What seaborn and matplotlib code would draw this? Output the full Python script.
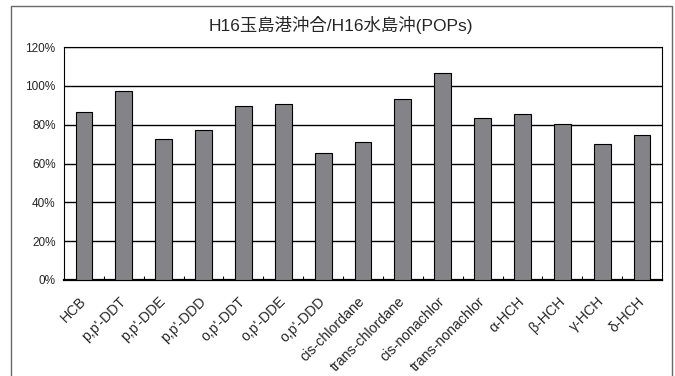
import matplotlib
matplotlib.use("Agg")
import matplotlib.pyplot as plt
from matplotlib.lines import Line2D
from matplotlib.ticker import FixedLocator, PercentFormatter
from matplotlib.transforms import ScaledTranslation
import seaborn as sns
import pandas as pd

compounds = ["HCB", "p,p'-DDT", "p,p'-DDE", "p,p'-DDD", "o,p'-DDT", "o,p'-DDE",
             "o,p'-DDD", "cis-chlordane", "trans-chlordane", "cis-nonachlor",
             "trans-nonachlor", "α-HCH", "β-HCH", "γ-HCH", "δ-HCH"]
ratio_pct = [86.5, 97.5, 72.8, 77.2, 89.4, 90.8, 65.2, 70.9, 93.4, 106.4,
             83.3, 85.6, 80.5, 69.9, 74.8]
y_ticks = [0, 20, 40, 60, 80, 100, 120]
title = "H16玉島港沖合/H16水島沖(POPs)"

sns.set_theme(style="white")
plt.rcParams["font.family"] = ["Liberation Sans", "Noto Sans CJK JP", "DejaVu Sans"]

df = pd.DataFrame({"compound": compounds, "ratio": ratio_pct})

fig = plt.figure(figsize=(6.75, 3.76), dpi=100)
ax = fig.add_axes([64 / 675, 1 - 280 / 376, (662 - 64) / 675, (280 - 47) / 376])

sns.barplot(data=df, x="compound", y="ratio", color="#848488", width=0.42,
            edgecolor="black", linewidth=0.8, saturation=1, ax=ax, zorder=3)

ax.set_ylim(0, 120)
ax.set_xlim(-0.5, len(compounds) - 0.5)
ax.yaxis.set_major_locator(FixedLocator(y_ticks))
ax.yaxis.set_major_formatter(PercentFormatter(decimals=0))
ax.grid(axis="y", color="black", linewidth=1.0, zorder=1)
ax.set_axisbelow(True)
ax.set_xlabel("")
ax.set_ylabel("")

# category boundary ticks pointing into the plot
ax.set_xticks(range(len(compounds)))
ax.set_xticklabels(compounds, rotation=45, ha="right", va="top",
                   rotation_mode="anchor", fontsize=10.2)
ax.tick_params(axis="x", length=0, pad=9)
shift = ScaledTranslation(-5 / 100, -2 / 100, fig.dpi_scale_trans)
for lbl in ax.get_xticklabels():
    lbl.set_transform(lbl.get_transform() + shift)
ax.set_xticks([i + 0.5 for i in range(len(compounds) - 1)], minor=True)
ax.tick_params(axis="x", which="minor", direction="in", length=3, width=0.8,
               color="black", bottom=True)
ax.tick_params(axis="y", length=0, pad=6, labelsize=8.5)

for side in ["left", "top", "right"]:
    ax.spines[side].set_color("black")
    ax.spines[side].set_linewidth(0.8)
ax.spines["bottom"].set_color("black")
ax.spines["bottom"].set_linewidth(1.6)

fig.text(341 / 675, 1 - 25 / 376, title, ha="center", va="center", fontsize=12.5)

# chart frame (open at the bottom)
W, H = 675, 376
frame = [(11, 376), (11, 6), (672, 6), (672, 376)]
xs = [p[0] / W for p in frame]
ys = [1 - p[1] / H for p in frame]
fig.add_artist(Line2D(xs, ys, transform=fig.transFigure, color="#6a6a6a", linewidth=1.0))

fig.savefig("out.png", dpi=100)
